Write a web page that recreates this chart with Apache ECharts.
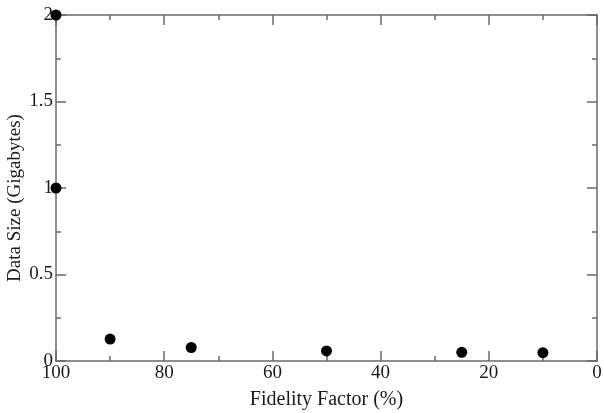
<!DOCTYPE html>
<html>
<head>
<meta charset="utf-8">
<script src="https://cdn.jsdelivr.net/npm/echarts@6/dist/echarts.min.js"></script>
<style>
  html, body { margin: 0; padding: 0; background: #fff; }
  #chart { width: 604px; height: 413px; }
</style>
</head>
<body>
<div id="chart"></div>
<script>
// values
var fidelity = [100, 100, 90, 75, 50, 25, 10];
var dataSize = [2.0, 1.0, 0.127, 0.078, 0.058, 0.05, 0.048];

var points = fidelity.map(function (f, i) { return [f, dataSize[i]]; });

var font = "'Liberation Serif', 'DejaVu Serif', serif";
var lineColor = "#6a6a6a";

function axisBase(show) {
  return {
    axisLine: { show: true, onZero: false, lineStyle: { color: lineColor, width: 1.5 } },
    axisTick: { show: true, inside: true, length: 10, lineStyle: { color: lineColor, width: 1.5 } },
    minorTick: { show: true, splitNumber: 2, length: 5, lineStyle: { color: lineColor, width: 1.5 } },
    splitLine: { show: false },
    axisLabel: {
      show: show,
      fontFamily: font,
      fontSize: 19,
      color: "#1a1a1a"
    }
  };
}

var chart = echarts.init(document.getElementById("chart"));

var xBottom = Object.assign(axisBase(true), {
  type: "value", min: 0, max: 100, interval: 20, inverse: true, position: "bottom",
  name: "Fidelity Factor (%)", nameLocation: "middle", nameGap: 29,
  nameMoveOverlap: false,
  nameTextStyle: { fontFamily: font, fontSize: 20, color: "#1a1a1a" }
});
xBottom.axisLabel.margin = 3;
var xTop = Object.assign(axisBase(false), {
  type: "value", min: 0, max: 100, interval: 20, inverse: true, position: "top"
});
var yLeft = Object.assign(axisBase(true), {
  type: "value", min: 0, max: 2, interval: 0.5, position: "left",
  name: "Data Size (Gigabytes)", nameLocation: "middle", nameGap: 31,
  nameMoveOverlap: false,
  nameTextStyle: { fontFamily: font, fontSize: 19, color: "#1a1a1a", padding: [0, 20, 0, 0] }
});
yLeft.axisLabel.margin = 3;
var yRight = Object.assign(axisBase(false), {
  type: "value", min: 0, max: 2, interval: 0.5, position: "right"
});

chart.setOption({
  animation: false,
  grid: { left: 56, right: 7, top: 15, bottom: 52, outerBoundsMode: "none" },
  xAxis: [xBottom, xTop],
  yAxis: [yLeft, yRight],
  series: [{
    type: "scatter",
    xAxisIndex: 0,
    yAxisIndex: 0,
    symbol: "circle",
    symbolSize: 11,
    itemStyle: { color: "#000", opacity: 1 },
    data: points,
    clip: false
  }]
});
</script>
</body>
</html>
